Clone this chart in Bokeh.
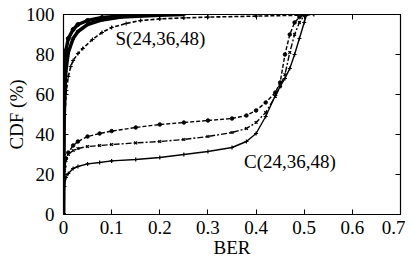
from bokeh.plotting import figure
from bokeh.models import LinearAxis, Range1d, Label, FixedTicker
from bokeh.embed import file_html
from bokeh.resources import INLINE

# ---- data ----
c_a_ber = [0, 0.002, 0.005, 0.01, 0.02, 0.03, 0.05, 0.075, 0.1, 0.15, 0.2, 0.25, 0.3, 0.35, 0.38,
           0.4, 0.42, 0.44, 0.45, 0.46, 0.47, 0.48, 0.49, 0.5]
c_a_cdf = [0, 24, 28, 31, 34.5, 36.5, 39, 40.5, 41.7, 43.5, 45, 46, 47, 48, 49.5,
           52, 56, 61, 66, 80, 90, 96, 98.7, 100]

c_b_ber = [0, 0.002, 0.005, 0.01, 0.02, 0.03, 0.05, 0.075, 0.1, 0.15, 0.2, 0.25, 0.3, 0.35, 0.38,
           0.4, 0.42, 0.44, 0.45, 0.46, 0.47, 0.48, 0.49, 0.5, 0.505]
c_b_cdf = [0, 22, 27, 30, 32, 33, 34, 34.5, 35, 35.8, 36.5, 37.5, 39, 41, 43,
           46, 51, 59, 64, 70, 81, 90, 96, 99.5, 100]

c_c_ber = [0, 0.002, 0.005, 0.01, 0.02, 0.03, 0.05, 0.075, 0.1, 0.15, 0.2, 0.25, 0.3, 0.35, 0.38,
           0.4, 0.42, 0.44, 0.45, 0.46, 0.47, 0.48, 0.49, 0.5, 0.505]
c_c_cdf = [0, 14, 18.5, 20.5, 23, 24, 25.3, 26, 26.8, 27.5, 28.5, 30, 31.5, 33.5, 36.5,
           40.5, 49, 59.5, 64, 68, 73, 80, 88, 96, 100]

s_a_ber = [0, 0.001, 0.003, 0.005, 0.01, 0.02, 0.03, 0.05, 0.08, 0.12, 0.2]
s_a_cdf = [0, 60, 75, 82, 88, 92.5, 95, 97, 98.5, 99.3, 100]

s_b_ber = [0, 0.001, 0.003, 0.005, 0.01, 0.02, 0.03, 0.05, 0.08, 0.12, 0.2, 0.25]
s_b_cdf = [0, 45, 62, 72, 81, 88, 91.5, 95, 97.3, 98.7, 99.6, 100]

s_c_ber = [0, 0.001, 0.003, 0.006, 0.01, 0.015, 0.02, 0.03, 0.04, 0.06, 0.08, 0.1, 0.13, 0.16,
           0.2, 0.25, 0.3, 0.4, 0.5, 0.52]
s_c_cdf = [0, 30, 50, 62, 69, 74, 77, 80.5, 83, 87.5, 91, 93.5, 95.5, 97, 97.8, 98.3, 98.7,
           99.2, 99.7, 100]

x_ticks = [0, 0.1, 0.2, 0.3, 0.4, 0.5, 0.6, 0.7]
y_ticks = [0, 20, 40, 60, 80, 100]

FONT = "Liberation Serif, Times New Roman, Tinos, serif"

p = figure(frame_width=337, frame_height=200, output_backend="svg", toolbar_location=None,
           x_range=Range1d(0, 0.7), y_range=Range1d(0, 100),
           min_border_left=63, min_border_right=5, min_border_top=14, min_border_bottom=42)
p.xgrid.visible = False
p.ygrid.visible = False
p.outline_line_color = "black"
p.outline_line_width = 1.2
p.background_fill_color = "white"
p.border_fill_color = "white"

for ax in (p.xaxis[0], p.yaxis[0]):
    ax.major_tick_in = 5
    ax.major_tick_out = 0
    ax.minor_tick_line_color = None
    ax.axis_line_color = "black"
    ax.major_tick_line_color = "black"
    ax.major_label_text_font = FONT
    ax.major_label_text_font_size = "19px"
    ax.major_label_text_color = "black"
    ax.axis_label_text_font = FONT
    ax.axis_label_text_font_size = "19px"
    ax.axis_label_text_font_style = "normal"
    ax.axis_label_text_color = "black"

p.xaxis[0].ticker = FixedTicker(ticks=x_ticks)
p.yaxis[0].ticker = FixedTicker(ticks=y_ticks)
p.xaxis[0].major_label_overrides = {0: "0"}
p.xaxis[0].axis_label = "BER"
p.yaxis[0].axis_label = "CDF (%)"
p.xaxis[0].major_label_standoff = 6
p.yaxis[0].major_label_standoff = 9
p.xaxis[0].axis_label_standoff = 0
p.yaxis[0].axis_label_standoff = -4

top = LinearAxis(ticker=FixedTicker(ticks=x_ticks), major_tick_in=5, major_tick_out=0,
                 minor_tick_line_color=None, major_label_overrides={t: "" for t in x_ticks},
                 major_label_standoff=0, axis_line_color="black")
right = LinearAxis(ticker=FixedTicker(ticks=y_ticks), major_tick_in=5, major_tick_out=0,
                   minor_tick_line_color=None, major_label_overrides={t: "" for t in y_ticks},
                   major_label_standoff=0, axis_line_color="black")
p.add_layout(top, "above")
p.add_layout(right, "right")

# C curves
p.line(c_a_ber, c_a_cdf, line_color="black", line_width=1.4, line_dash="4 2")
p.scatter(c_a_ber, c_a_cdf, marker="circle", size=3.5, color="black")
p.line(c_b_ber, c_b_cdf, line_color="black", line_width=1.4, line_dash="6 2 2 2")
p.scatter(c_b_ber, c_b_cdf, marker="x", size=4, color="black", line_width=1.2)
p.line(c_c_ber, c_c_cdf, line_color="black", line_width=1.4)
p.scatter(c_c_ber, c_c_cdf, marker="cross", size=4, color="black", line_width=1.2)

# S curves
p.line(s_a_ber, s_a_cdf, line_color="black", line_width=3.5)
p.scatter(s_a_ber, s_a_cdf, marker="circle", size=4, color="black")
p.line(s_b_ber, s_b_cdf, line_color="black", line_width=3.5)
p.scatter(s_b_ber, s_b_cdf, marker="x", size=4, color="black", line_width=1.2)
p.line(s_c_ber, s_c_cdf, line_color="black", line_width=1.6, line_dash="4 2")
p.scatter(s_c_ber, s_c_cdf, marker="cross", size=4, color="black", line_width=1.2)

p.add_layout(Label(x=0.108, y=88, text="S(24,36,48)", text_font=FONT, text_font_size="19px",
                   text_baseline="middle", text_align="left", text_color="black"))
p.add_layout(Label(x=0.375, y=26.5, text="C(24,36,48)", text_font=FONT, text_font_size="19px",
                   text_baseline="middle", text_align="left", text_color="black"))

open("out.html", "w").write(file_html(p, INLINE))
